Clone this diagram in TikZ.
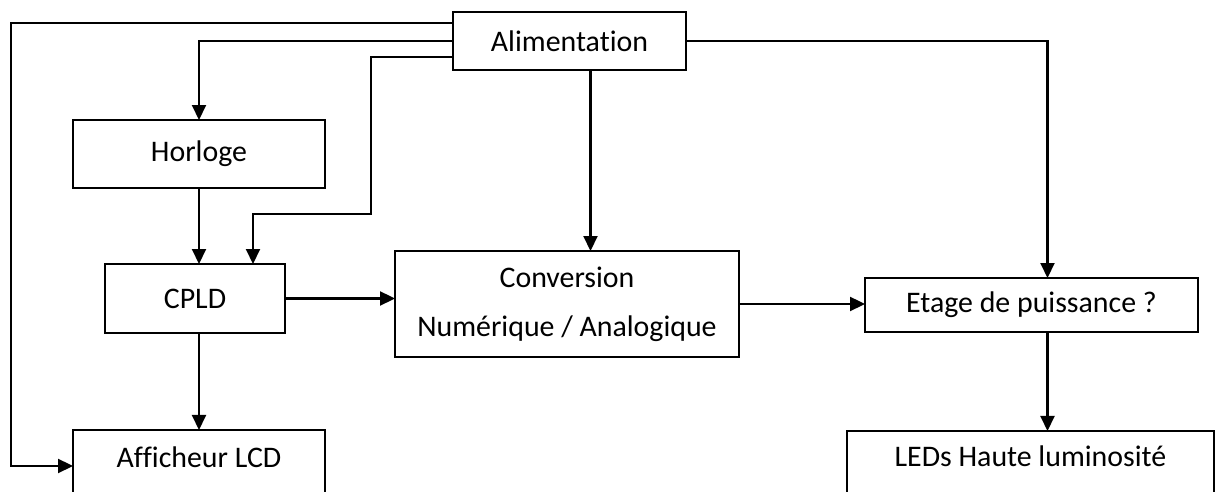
\documentclass[tikz,border=0pt]{standalone}
\usepackage{fontspec}
\setmainfont{Carlito}[Ligatures=NoCommon]
\usetikzlibrary{positioning,calc,arrows.meta}

\begin{document}
\begin{tikzpicture}[x=0.02cm, y=-0.02cm,
  bloc/.style={draw, line width=1.1pt, inner sep=0pt, outer sep=0pt,
    font=\fontsize{17}{20}\selectfont},
  fleche/.style={line width=1.2pt, -{Triangle[length=0.3cm,width=0.28cm]}}]
  \useasboundingbox (0,0) rectangle (1215,492);
  \node[bloc, minimum width=4.66cm, minimum height=1.16cm] (alim) at (569.5,41) {Alimentation};
  \node[bloc, minimum width=5.04cm, minimum height=1.36cm] (horl) at (199,154) {Horloge};
  \node[bloc, minimum width=3.6cm, minimum height=1.38cm] (cpld) at (195,298.5) {CPLD};
  \node[bloc, minimum width=6.88cm, minimum height=2.12cm, align=center,
    font=\fontsize{17}{28}\selectfont] (conv) at (567,304) {Conversion\\Numérique / Analogique};
  \node[bloc, minimum width=6.66cm, minimum height=1.08cm] (etage) at (1031.5,305) {Etage de puissance ?};
  \node[bloc, anchor=north, minimum width=5.04cm, text height=0.76cm, text depth=0.64cm] (lcd) at (199,430) {Afficheur LCD};
  \node[bloc, anchor=north, minimum width=7.34cm, text height=0.72cm, text depth=0.66cm] (leds) at (1030.5,431) {LEDs Haute luminosité};

  \coordinate (gauche) at (11,466);
  \coordinate (coude) at (371,214);
  \coordinate (alimb) at ($(alim.south)+(21,0)$);
  \coordinate (etn) at ($(etage.north)+(16,0)$);

  \draw[fleche] ($(alim.west)+(0,-18)$) -| (gauche) -- (gauche -| lcd.west);
  \draw[fleche] (alim.west) -| (horl.north);
  \draw[fleche] ($(alim.west)+(0,16)$) -| (coude) -| ($(cpld.north)+(58,0)$);
  \draw[fleche] (alimb) -- (alimb |- conv.north);
  \draw[fleche] (alim.east) -| (etn);
  \draw[fleche] (horl.south) -- (horl.south |- cpld.north);
  \draw[fleche] (lcd.north |- cpld.south) -- (lcd.north);
  \draw[fleche] (cpld.east) -- (cpld.east -| conv.west);
  \draw[fleche] (conv.east) -- (conv.east -| etage.west);
  \draw[fleche] (etage.south -| etn) -- (leds.north -| etn);
\end{tikzpicture}
\end{document}
